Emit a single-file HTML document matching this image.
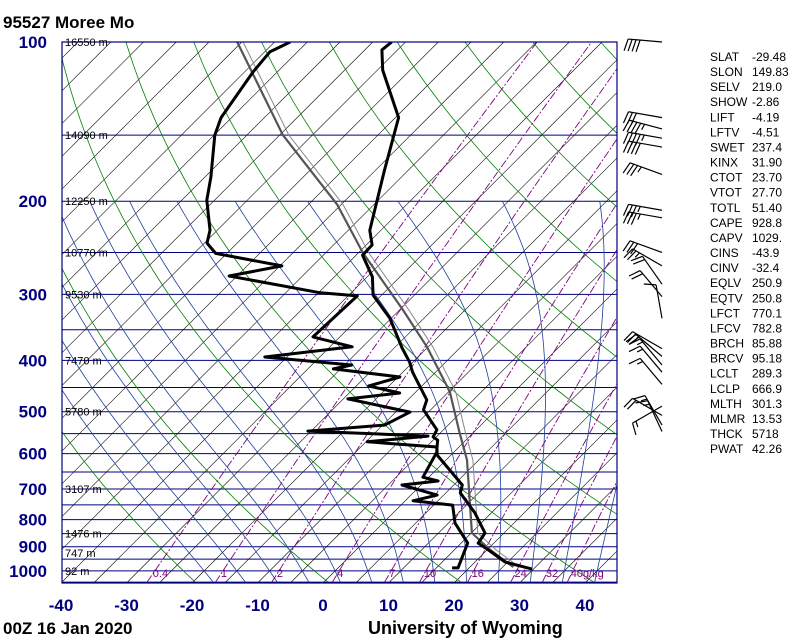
<!DOCTYPE html>
<html><head><meta charset="utf-8">
<style>
body{margin:0;background:#fff;width:800px;height:640px;overflow:hidden}
svg{display:block;font-family:"Liberation Sans",sans-serif}
</style></head><body>
<svg id="chart" width="800" height="640" viewBox="0 0 800 640" xmlns="http://www.w3.org/2000/svg">
<defs><clipPath id="plotclip"><rect x="62" y="42" width="555" height="541"/></clipPath></defs>
<rect width="800" height="640" fill="#fff"/>
<text x="3" y="28" font-size="17" font-weight="bold">95527  Moree Mo</text>
<text x="3" y="634" font-size="17" font-weight="bold">00Z 16 Jan 2020</text>
<text x="368" y="634" font-size="18" font-weight="bold">University of Wyoming</text>
<g id="grid" clip-path="url(#plotclip)"></g>
<g id="series" clip-path="url(#plotclip)"></g>
<rect x="62" y="42" width="555" height="541" fill="none" stroke="#000080" stroke-width="1.2"/>
<g id="labels"></g>
<g id="barbs"></g>
<g id="stats"></g>
</svg>
<script>
// ---- data ----
const tempP = [100,103.5,113,139,175,227,242,253,278,301,333,379,403,421,455,475,496,541,558,566,586,604,688,712,777,848,886,917,962,992];
const tempT = [-72.1,-72.4,-69.2,-59.5,-53.6,-46.7,-44.1,-44.0,-39.2,-36.3,-30.2,-23.8,-20.5,-18.5,-14.4,-12.1,-11.1,-6.0,-5.5,-4.3,-3.2,-2.1,6.3,7.2,12.5,17.1,17.6,20.6,24.6,29.8];
const dewP = [100,104.4,113.9,139,150,180,199,227,240,251,265,277,298,302,361,377,394,408,415,430,447,461,473,501,530,544,556,570,583,596,665,676,688,719,737,751,812,886,987,987];
const dewT = [-87.6,-89.2,-88.7,-86.6,-84.9,-79.1,-76.2,-71.1,-69.6,-66.7,-54.7,-61.2,-44.7,-38.6,-39.1,-31.6,-43.4,-28.9,-31.1,-19.7,-23.1,-17.3,-24.3,-12.8,-14.7,-25.5,-6.4,-14.8,-3.4,-2.6,-0.9,2.0,-2.9,4.0,1.2,7.9,11.0,16.0,18.3,17.4];
const parcelP = [100,150,203,250,321,377,451,461,549,617,848,913,983];
const parcelT = [-95.7,-74.5,-55.6,-44.4,-29.5,-20.2,-10.7,-9.6,-2.0,3.2,15.1,20.5,26.6];
const pressureTicks = [100,200,300,400,500,600,700,800,900,1000];
const tempTicks = [-40,-30,-20,-10,0,10,20,30,40];
const heightP = [100,150,200,250,300,400,500,700,850,925,1000];
const heightLabels = ["16550 m","14090 m","12250 m","10770 m","9530 m","7470 m","5780 m","3107 m","1476 m","747 m","92 m"];
const mixRatios = [0.4,1,2,4,7,10,16,24,32,40];
const mixLabels = ["0.4","1","2","4","7","10","16","24","32","40g/kg"];
const barbP = [100,139,146,152,158,178,208,215,250,265,287,303,333,380,393,408,421,444,488,508,530,545];
const barbDir = [275,280,285,280,280,290,280,280,290,300,325,320,350,300,310,320,320,320,240,300,330,335];
const barbSpd = [40,30,45,45,40,35,35,35,30,25,20,20,10,25,20,15,15,15,15,20,15,15];
const statNames = ["SLAT","SLON","SELV","SHOW","LIFT","LFTV","SWET","KINX","CTOT","VTOT","TOTL","CAPE","CAPV","CINS","CINV","EQLV","EQTV","LFCT","LFCV","BRCH","BRCV","LCLT","LCLP","MLTH","MLMR","THCK","PWAT"];
const statVals = ["-29.48","149.83","219.0","-2.86","-4.19","-4.51","237.4","31.90","23.70","27.70","51.40","928.8","1029.","-43.9","-32.4","250.9","250.8","770.1","782.8","85.88","95.18","289.3","666.9","301.3","13.53","5718","42.26"];

// ---- axes ----
const NS="http://www.w3.org/2000/svg";
const Y0=42, YB=583, KY=229.7, X0=323, KX=6.55;
function yP(p){return Y0+KY*Math.log(p/100);}
function xT(t,p){return X0+KX*t+(YB-yP(p));}
function mk(tag,attrs,parent){const e=document.createElementNS(NS,tag);for(const k in attrs)e.setAttribute(k,attrs[k]);parent.appendChild(e);return e;}
const grid=document.getElementById('grid'), series=document.getElementById('series'), labels=document.getElementById('labels');

// isobars
for(let p=100;p<=1050;p+=50){
  const l=mk('line',{x1:62,x2:617,y1:yP(p),y2:yP(p),stroke:'#000080','stroke-width':1},grid);
  
  
}
// isotherms
for(let t=-160;t<=60;t+=5){
  const l=mk('line',{x1:xT(t,1050),y1:yP(1050),x2:xT(t,100),y2:yP(100),stroke:'#000','stroke-width':0.6},grid);
  
  
}
// dry adiabats
for(let th=230;th<=500;th+=20){
  let d='';for(let p=1050;p>=100;p-=10){const t=th*Math.pow(p/1000,0.286)-273.15;d+=(d?'L':'M')+xT(t,p).toFixed(1)+','+yP(p).toFixed(1);}
  const e=mk('path',{d:d,fill:'none',stroke:'#008000','stroke-width':0.8},grid);
  
  
}
// moist adiabats
function es(t){return 6.112*Math.exp(17.67*t/(t+243.5));}
function moistGrad(t,p){const T=t+273.15;const ws=0.622*es(t)/(p-es(t));const Lv=2.5e6,Rd=287,cp=1004;
  const num=(Rd*T+Lv*ws)/(cp+Lv*Lv*ws*0.622/(Rd*T*T));return num/p;}
for(let t0=-20;t0<=40;t0+=5){
  let t=t0,p=1000;
  let tt=t,pp=1000;for(let i=0;i<5;i++){tt+=moistGrad(tt,pp)*10;pp+=10;}
  let d='M'+xT(tt,pp).toFixed(1)+','+yP(pp).toFixed(1)+'L'+xT(t,p).toFixed(1)+','+yP(p).toFixed(1);
  while(p>200){t-=moistGrad(t,p)*5;p-=5;d+='L'+xT(t,p).toFixed(1)+','+yP(p).toFixed(1);}
  const e=mk('path',{d:d,fill:'none',stroke:'#1f3f9f','stroke-width':0.8},grid);
  
  
}
// mixing ratio
function tdFromW(w,p){const e=w*p/(622+w);const l=Math.log(e/6.112);return 243.5*l/(17.67-l);}
mixRatios.forEach((w,i)=>{
  let d='';for(let p=1050;p>=100;p-=10){d+=(d?'L':'M')+xT(tdFromW(w,p),p).toFixed(1)+','+yP(p).toFixed(1);}
  const e=mk('path',{d:d,fill:'none',stroke:'#800080','stroke-width':0.9,'stroke-dasharray':'8,2,2,2'},grid);
  
  
  const tx=mk('text',{x:xT(tdFromW(w,1000),1000)-2,y:577,'font-size':11,fill:'#800080'},labels);
  tx.textContent=mixLabels[i];
  
  
});
// series
function line(P,T,color,w,name){
  let d='';P.forEach((p,i)=>{d+=(i?'L':'M')+xT(T[i],p).toFixed(1)+','+yP(p).toFixed(1);});
  const e=mk('path',{d:d,fill:'none',stroke:color,'stroke-width':w,'stroke-linejoin':'round'},series);
  
  
}
line(parcelP,parcelT.map(t=>t+0.9),'#888',1,'virtual-parcel-line');
line(parcelP,parcelT,'#555',2.2,'parcel-line');
line(tempP,tempT,'#000',3,'temperature-line');
line(dewP,dewT,'#000',3,'dewpoint-line');

// pressure labels
pressureTicks.forEach(p=>{
  const t=mk('text',{x:47,y:yP(p)+6,'font-size':17,'font-weight':'bold',fill:'#000080','text-anchor':'end'},labels);
  t.textContent=p;
  
  
});
tempTicks.forEach(v=>{
  const t=mk('text',{x:X0+KX*v,y:611,'font-size':17,'font-weight':'bold',fill:'#000080','text-anchor':'middle'},labels);
  t.textContent=v;
  
  
});
heightP.forEach((p,i)=>{
  const t=mk('text',{x:65,y:yP(p)+4,'font-size':11,fill:'#000'},labels);
  t.textContent=heightLabels[i];
  
  
});
// barbs
const barbs=document.getElementById('barbs');
barbP.forEach((p,i)=>{
  const bx=662, by=yP(p), d=barbDir[i]*Math.PI/180, L=34;
  const ux=Math.sin(d), uy=-Math.cos(d);
  const g=mk('g',{stroke:'#000','stroke-width':1.2,fill:'none'},barbs);
  
  
  if(barbSpd[i]===0){mk('circle',{cx:bx,cy:by,r:4},g);return;}
  mk('line',{x1:bx,y1:by,x2:bx+ux*L,y2:by+uy*L},g);
  let s=barbSpd[i], pos=L;
  const fx=uy, fy=-ux;
  while(s>=50){mk('path',{d:`M${bx+ux*pos},${by+uy*pos}L${bx+ux*(pos-4)+fx*12},${by+uy*(pos-4)+fy*12}L${bx+ux*(pos-7)},${by+uy*(pos-7)}`,fill:'#000'},g);pos-=9;s-=50;}
  while(s>=10){mk('line',{x1:bx+ux*pos,y1:by+uy*pos,x2:bx+ux*(pos+3)+fx*12,y2:by+uy*(pos+3)+fy*12},g);pos-=4;s-=10;}
  if(s>=5){mk('line',{x1:bx+ux*pos,y1:by+uy*pos,x2:bx+ux*(pos+1.5)+fx*6,y2:by+uy*(pos+1.5)+fy*6},g);}
});
// stats
const stats=document.getElementById('stats');
statNames.forEach((n,i)=>{
  const y=61+i*15.08;
  const a=mk('text',{x:710,y:y,'font-size':12,fill:'#000'},stats);a.textContent=n;
  
  
  const b=mk('text',{x:752,y:y,'font-size':12,fill:'#000'},stats);b.textContent=statVals[i];
  
  
});
</script>
</body></html>
